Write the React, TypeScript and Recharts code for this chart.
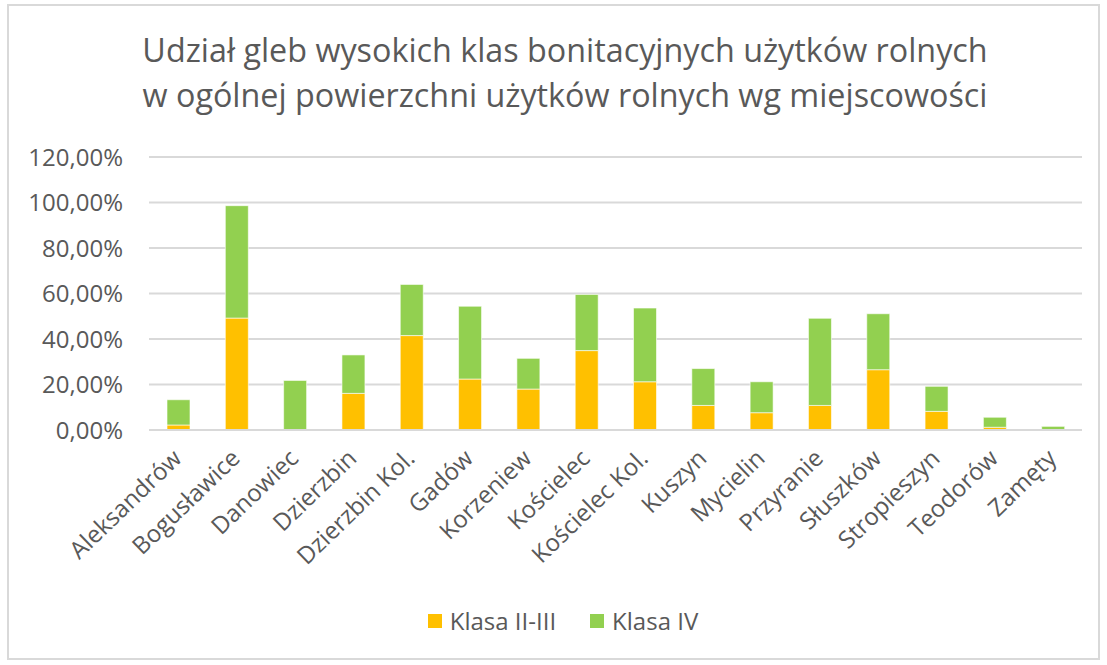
import { BarChart, Bar, XAxis, YAxis, CartesianGrid, Legend } from "recharts";

const places = [
  "Aleksandrów", "Bogusławice", "Danowiec", "Dzierzbin", "Dzierzbin Kol.", "Gadów",
  "Korzeniew", "Kościelec", "Kościelec Kol.", "Kuszyn", "Mycielin", "Przyranie",
  "Słuszków", "Stropieszyn", "Teodorów", "Zamęty",
];
// shares as fractions of total farmland
const klasa23 = [0.022, 0.492, 0, 0.161, 0.415, 0.224, 0.18, 0.349, 0.212, 0.108, 0.076, 0.108, 0.265, 0.082, 0.012, 0.002];
const klasa4 = [0.111, 0.494, 0.218, 0.169, 0.225, 0.32, 0.135, 0.247, 0.324, 0.162, 0.136, 0.383, 0.246, 0.11, 0.044, 0.014];
const yTicks = [0, 0.2, 0.4, 0.6, 0.8, 1.0, 1.2];

const data = places.map((name, i) => ({ name, k23: klasa23[i], k4: klasa4[i] }));

const FONT = "'Open Sans', sans-serif";
const GRAY = "#595959";

const pct = (v: number) => (v * 100).toFixed(2).replace(".", ",") + "%";

function XTick({ x, y, payload }: any) {
  const ax = x + 5;
  const ay = y + 22;
  return (
    <text
      x={ax}
      y={ay}
      transform={`rotate(-44 ${ax} ${ay})`}
      textAnchor="end"
      fill={GRAY}
      fontSize={24}
      fontFamily={FONT}
    >
      {payload.value}
    </text>
  );
}

function LegendBox({ payload }: any) {
  return (
    <div style={{ display: "flex", justifyContent: "center", alignItems: "center", paddingTop: 5, marginLeft: 44 }}>
      {(payload || []).map((p: any) => (
        <div key={p.value} style={{ display: "flex", alignItems: "center", margin: "0 17px" }}>
          <span style={{ width: 14, height: 14, background: p.color, display: "inline-block", marginRight: 8 }} />
          <span style={{ color: GRAY, fontSize: 24, fontFamily: FONT, lineHeight: "30px" }}>{p.value}</span>
        </div>
      ))}
    </div>
  );
}

export default function App() {
  return (
    <div style={{ position: "absolute", left: 0, top: 0, width: 1107, height: 665, background: "#fff" }}>
      <div
        style={{
          position: "absolute", left: 7, top: 4, width: 1093, height: 656,
          border: "2px solid #d9d9d9", boxSizing: "border-box",
        }}
      />
      <div
        style={{
          position: "absolute", left: 0, top: 27, width: 1130, textAlign: "center",
          fontFamily: FONT, fontSize: 32.3, lineHeight: "45px", color: GRAY,
        }}
      >
        Udział gleb wysokich klas bonitacyjnych użytków rolnych
        <br />
        w ogólnej powierzchni użytków rolnych wg miejscowości
      </div>
      <div style={{ position: "absolute", left: 0, top: 0 }}>
        <BarChart
          width={1107}
          height={665}
          data={data}
          margin={{ top: 157, right: 25, left: 0, bottom: 24 }}
          barSize={23}
        >
          <CartesianGrid vertical={false} stroke="#d9d9d9" strokeWidth={2} />
          <XAxis
            dataKey="name"
            interval={0}
            height={171}
            tick={<XTick />}
            tickLine={false}
            axisLine={{ stroke: "#d9d9d9", strokeWidth: 2 }}
          />
          <YAxis
            width={149}
            domain={[0, 1.2]}
            ticks={yTicks}
            tickFormatter={pct}
            tickLine={false}
            axisLine={false}
            tickMargin={20}
            tick={{ fill: GRAY, fontSize: 24, fontFamily: FONT }}
          />
          <Legend verticalAlign="bottom" height={40} content={<LegendBox />} />
          <Bar dataKey="k23" name="Klasa II-III" stackId="a" fill="#ffc000" stroke="#fff" strokeWidth={0.6} isAnimationActive={false} />
          <Bar dataKey="k4" name="Klasa IV" stackId="a" fill="#92d050" stroke="#fff" strokeWidth={0.6} isAnimationActive={false} />
        </BarChart>
      </div>
    </div>
  );
}
